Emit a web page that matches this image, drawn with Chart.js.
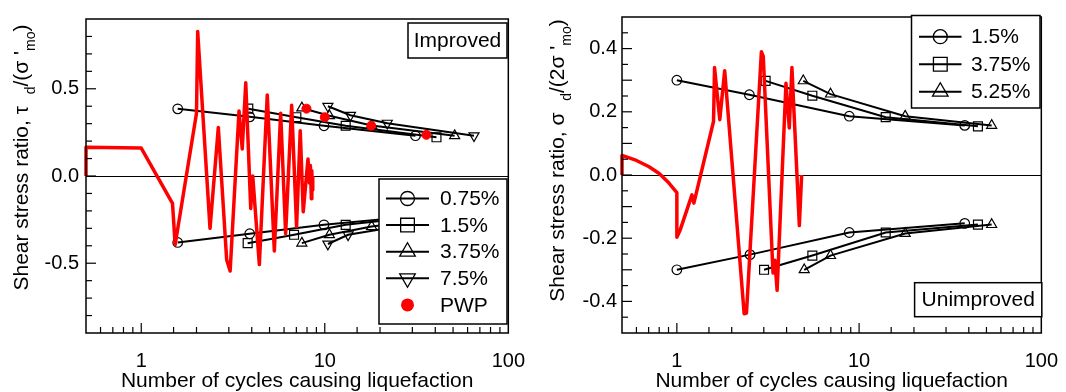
<!DOCTYPE html>
<html>
<head>
<meta charset="utf-8">
<script src="https://cdn.jsdelivr.net/npm/chart.js@4.4.1/dist/chart.umd.min.js"></script>
<style>
  html, body { margin: 0; padding: 0; background: #fff; }
  #wrap { position: relative; width: 1066px; height: 392px; }
  canvas { position: absolute; top: 0; }
</style>
</head>
<body>
<div id="wrap">
  <canvas id="improved" width="533" height="392" style="left:0"></canvas>
  <canvas id="unimproved" width="533" height="392" style="left:533px"></canvas>
</div>
<script>
// ---- Improved ground (left panel) ----
var impLabels = ["0.75%", "1.5%", "3.75%", "7.5%"];
var impUpperCycles = [
  [1.58, 3.9, 9.9, 31.2],
  [3.83, 7.0, 13.0, 40.6],
  [7.5, 10.6, 18.0, 51.0],
  [10.4, 13.8, 21.9, 65.0]
];
var impUpperRatio = [
  [0.385, 0.339, 0.288, 0.231],
  [0.386, 0.337, 0.288, 0.222],
  [0.39, 0.345, 0.29, 0.231],
  [0.40, 0.348, 0.303, 0.231]
];
var impLowerCycles = [
  [1.58, 3.9, 9.9, 31.2],
  [3.8, 6.8, 13.0, 40.6],
  [7.5, 10.6, 18.0, 51.0],
  [10.4, 13.4, 21.9, 65.0]
];
var impLowerRatio = [
  [-0.381, -0.331, -0.28, -0.23],
  [-0.385, -0.337, -0.28, -0.222],
  [-0.385, -0.337, -0.29, -0.231],
  [-0.39, -0.337, -0.30, -0.231]
];
var impPwpLabel = "PWP";
var impPwpCycles = [7.95, 10.0, 17.9, 35.8];
var impPwpRatio = [0.386, 0.337, 0.288, 0.236];
var impTraceCycles = [0.5, 0.5, 1.0, 1.48, 1.53, 2.0, 2.03, 2.37, 2.63, 2.92, 3.05, 3.41, 3.55, 3.71, 3.95, 4.05, 4.4,
  4.86, 5.31, 5.75, 6.12, 6.6, 7.02, 7.35, 7.63, 8.1, 8.25, 8.35, 8.45, 8.5, 8.55, 8.6];
var impTraceRatio = [0, 0.165, 0.16, -0.157, -0.394, 0.36, 0.828, -0.30, 0.278, -0.48, -0.545, 0.373, 0.155, 0.534, -0.186, 0.0, -0.508,
  0.465, -0.43, 0.36, -0.33, 0.405, -0.29, 0.26, -0.205, 0.098, -0.04, 0.06, -0.13, 0.03, -0.08, 0.0];

// ---- Unimproved ground (right panel) ----
var unLabels = ["1.5%", "3.75%", "5.25%"];
var unUpperCycles = [
  [1.0, 2.5, 8.83, 38.0],
  [3.07, 5.54, 14.0, 44.9],
  [4.94, 6.97, 17.9, 53.4]
];
var unUpperRatio = [
  [0.30, 0.254, 0.186, 0.157],
  [0.298, 0.251, 0.183, 0.154],
  [0.298, 0.256, 0.186, 0.157]
];
var unLowerCycles = [
  [1.0, 2.52, 8.83, 38.0],
  [3.01, 5.54, 14.0, 44.9],
  [5.0, 6.97, 17.9, 53.4]
];
var unLowerRatio = [
  [-0.30, -0.252, -0.182, -0.153],
  [-0.30, -0.255, -0.182, -0.157],
  [-0.30, -0.255, -0.185, -0.157]
];
var unTraceCycles = [0.5, 0.5, 0.6, 0.7, 0.8, 0.9, 1.0, 1.0, 1.04, 1.21, 1.24, 1.59, 1.61, 1.72, 1.83, 2.34, 2.41,
  2.91, 2.98, 3.37, 3.45, 3.55, 3.97, 4.14, 4.28, 4.7, 4.84];
var unTraceRatio = [0, 0.062, 0.046, 0.027, 0.005, -0.024, -0.056, -0.197, -0.176, -0.063, -0.089, 0.17, 0.34, 0.175, 0.33, -0.439, -0.437,
  0.39, 0.375, -0.31, -0.27, -0.365, 0.29, 0.149, 0.34, -0.16, 0.0];

var xTickLabels = [1, 10, 100];

var FONT = '"Liberation Sans", Arial, sans-serif';
var shapesImp = [{ s: "circle", rot: 0 }, { s: "rect", rot: 0 }, { s: "triangle", rot: 0 }, { s: "triangle", rot: 180 }];
var shapesUn = [{ s: "circle", rot: 0 }, { s: "rect", rot: 0 }, { s: "triangle", rot: 0 }];
var plotRadius = { circle: 4.8, rect: 6.3, triangle: 5.8 };
var legendRadius = { circle: 7, rect: 9.7, triangle: 9 };

function pts(xs, ys) {
  return xs.map(function (x, i) { return { x: x, y: ys[i] }; });
}

function seriesDatasets(labels, shapes, upN, upR, loN, loR) {
  var out = [];
  labels.forEach(function (lab, i) {
    var st = shapes[i];
    [[upN[i], upR[i]], [loN[i], loR[i]]].forEach(function (br, k) {
      out.push({
        label: lab,
        legendEntry: k === 0,
        shape: st.s,
        rot: st.rot,
        data: pts(br[0], br[1]),
        showLine: true,
        borderColor: "#000",
        borderWidth: 2,
        pointStyle: st.s,
        pointRotation: st.rot,
        pointRadius: plotRadius[st.s],
        pointHoverRadius: plotRadius[st.s],
        pointBorderWidth: 1.2,
        pointBorderColor: "#000",
        pointBackgroundColor: "rgba(0,0,0,0)",
        order: 3
      });
    });
  });
  return out;
}

function traceDataset(xs, ys) {
  return {
    label: "trace",
    data: pts(xs, ys),
    showLine: true,
    borderColor: "#ff0000",
    borderWidth: 3.5,
    borderJoinStyle: "round",
    pointRadius: 0,
    clip: false,
    order: 2
  };
}

function drawMarker(ctx, shape, rot, x, y, r) {
  ctx.beginPath();
  if (shape === "circle") {
    ctx.arc(x, y, r, 0, 2 * Math.PI);
  } else if (shape === "rect") {
    var h = r * Math.SQRT1_2;
    ctx.rect(x - h, y - h, 2 * h, 2 * h);
  } else {
    var s = rot ? -1 : 1;
    ctx.moveTo(x, y - s * r);
    ctx.lineTo(x + r * 0.866, y + s * r * 0.5);
    ctx.lineTo(x - r * 0.866, y + s * r * 0.5);
    ctx.closePath();
  }
  ctx.stroke();
}

function drawYTitle(ctx, parts, baseX, centerY) {
  ctx.save();
  ctx.fillStyle = "#000";
  ctx.textBaseline = "alphabetic";
  ctx.textAlign = "left";
  var total = 0;
  parts.forEach(function (p) {
    ctx.font = (p.sub ? 14 : 21) + "px " + FONT;
    p.w = ctx.measureText(p.t).width;
    total += p.w;
  });
  ctx.translate(baseX, centerY + total / 2);
  ctx.rotate(-Math.PI / 2);
  var pos = 0;
  parts.forEach(function (p) {
    ctx.font = (p.sub ? 14 : 21) + "px " + FONT;
    ctx.fillText(p.t, pos, p.sub ? 7 : 0);
    pos += p.w;
  });
  ctx.restore();
}

var panelDeco = {
  id: "panelDeco",
  afterDatasetsDraw: function (chart, args, o) {
    var ctx = chart.ctx, a = chart.chartArea, xs = chart.scales.x, ys = chart.scales.y;
    ctx.save();
    ctx.strokeStyle = "#000";
    ctx.lineWidth = 1.2;
    xs.ticks.forEach(function (t) {
      var lg = Math.log10(t.value);
      var major = Math.abs(lg - Math.round(lg)) < 1e-6;
      var px = xs.getPixelForValue(t.value);
      if (px < a.left + 1 || px > a.right - 1) return;
      ctx.beginPath();
      ctx.moveTo(px, a.bottom);
      ctx.lineTo(px, a.bottom - (major ? 10 : 6));
      ctx.stroke();
    });
    ys.ticks.forEach(function (t) {
      var q = t.value / o.majorY;
      var major = Math.abs(q - Math.round(q)) < 1e-6;
      var py = ys.getPixelForValue(t.value);
      if (py < a.top + 1 || py > a.bottom - 1) return;
      ctx.beginPath();
      ctx.moveTo(a.left, py);
      ctx.lineTo(a.left + (major ? 10 : 6), py);
      ctx.stroke();
    });
    ctx.lineWidth = 1.5;
    ctx.strokeRect(a.left, a.top, a.right - a.left, a.bottom - a.top);
    ctx.restore();
  },
  afterDraw: function (chart, args, o) {
    var ctx = chart.ctx;
    ctx.save();
    // legend
    var L = o.legend;
    ctx.fillStyle = "#fff";
    ctx.fillRect(L.x, L.y, L.w, L.h);
    ctx.strokeStyle = "#000";
    ctx.lineWidth = 1.5;
    ctx.strokeRect(L.x, L.y, L.w, L.h);
    var entries = chart.data.datasets.filter(function (d) { return d.legendEntry; });
    ctx.font = "21px " + FONT;
    ctx.textBaseline = "middle";
    ctx.textAlign = "left";
    entries.forEach(function (d, i) {
      var y = L.row0 + i * L.step;
      ctx.fillStyle = "#000";
      if (d.dots) {
        ctx.fillStyle = "#ff0000";
        ctx.beginPath();
        ctx.arc(L.mark, y, 6.5, 0, 2 * Math.PI);
        ctx.fill();
      } else {
        ctx.strokeStyle = "#000";
        ctx.lineWidth = 2;
        ctx.beginPath();
        ctx.moveTo(L.line0, y);
        ctx.lineTo(L.line1, y);
        ctx.stroke();
        ctx.lineWidth = 1.3;
        drawMarker(ctx, d.shape, d.rot, L.mark, y, legendRadius[d.shape]);
      }
      ctx.fillStyle = "#000";
      ctx.fillText(d.label, L.text, y + 1);
    });
    // panel tag
    var T = o.tag;
    ctx.fillStyle = "#fff";
    ctx.fillRect(T.x, T.y, T.w, T.h);
    ctx.strokeStyle = "#000";
    ctx.lineWidth = 1.5;
    ctx.strokeRect(T.x, T.y, T.w, T.h);
    ctx.fillStyle = "#000";
    ctx.textAlign = "center";
    ctx.fillText(T.text, T.x + T.w / 2, T.y + T.h / 2 + 1);
    ctx.restore();
    drawYTitle(ctx, o.title, o.titleX, o.titleY);
  }
};

function makeChart(id, datasets, yMin, yMax, yStep, labelStep, majorY, yWidth, yPad, padRight, deco) {
  return new Chart(document.getElementById(id), {
    type: "scatter",
    data: { datasets: datasets },
    plugins: [panelDeco],
    options: {
      responsive: false,
      devicePixelRatio: 1,
      animation: false,
      events: [],
      layout: { padding: { left: 0, right: padRight, top: 15, bottom: 0 } },
      plugins: {
        legend: { display: false },
        tooltip: { enabled: false },
        panelDeco: Object.assign({ majorY: majorY }, deco)
      },
      scales: {
        x: {
          type: "logarithmic",
          min: 0.5,
          max: 100,
          grid: { display: false },
          border: { display: false },
          afterFit: function (s) { s.height = 59; },
          ticks: {
            autoSkip: false,
            maxRotation: 0,
            padding: 8,
            color: "#000",
            font: { family: FONT, size: 20 },
            callback: function (v) {
              for (var i = 0; i < xTickLabels.length; i++) {
                if (Math.abs(v - xTickLabels[i]) < 1e-6 * xTickLabels[i]) return String(xTickLabels[i]);
              }
              return "";
            }
          },
          title: {
            display: true,
            text: "Number of cycles causing liquefaction",
            color: "#000",
            font: { family: FONT, size: 21, lineHeight: 1 },
            padding: { top: 0, bottom: 0 }
          }
        },
        y: {
          min: yMin,
          max: yMax,
          afterFit: function (s) { s.width = yWidth; },
          border: { display: false },
          grid: {
            drawTicks: false,
            lineWidth: 1,
            color: function (c) { return c.tick && Math.abs(c.tick.value) < 1e-9 ? "#000" : "rgba(0,0,0,0)"; }
          },
          ticks: {
            stepSize: yStep,
            autoSkip: false,
            padding: yPad,
            color: "#000",
            font: { family: FONT, size: 20 },
            callback: function (v) {
              var q = v / labelStep;
              return Math.abs(q - Math.round(q)) < 1e-6 ? (Math.round(q) * labelStep).toFixed(1) : "";
            }
          }
        }
      }
    }
  });
}

// left panel datasets
var impSets = seriesDatasets(impLabels, shapesImp, impUpperCycles, impUpperRatio, impLowerCycles, impLowerRatio);
impSets.push({
  label: impPwpLabel,
  legendEntry: true,
  dots: true,
  data: pts(impPwpCycles, impPwpRatio),
  showLine: false,
  pointRadius: 4.5,
  pointBackgroundColor: "#ff0000",
  pointBorderColor: "#ff0000",
  order: 1
});
impSets.push(traceDataset(impTraceCycles, impTraceRatio));

makeChart("improved", impSets, -0.9, 0.9, 0.1, 0.5, 0.5, 86, 7, 22, {
  legend: { x: 379, y: 179, w: 128, h: 145, row0: 198.5, step: 26.6, line0: 386, line1: 429, mark: 407.5, text: 440 },
  tag: { x: 408, y: 23, w: 99, h: 35, text: "Improved" },
  title: [
    { t: "Shear stress ratio, \u03c4  " }, { t: "d", sub: true }, { t: "/(\u03c3 " }, { t: "'" }, { t: "mo", sub: true }, { t: ")" }
  ],
  titleX: 28,
  titleY: 157.5
});

// right panel datasets
var unSets = seriesDatasets(unLabels, shapesUn, unUpperCycles, unUpperRatio, unLowerCycles, unLowerRatio);
unSets.push(traceDataset(unTraceCycles, unTraceRatio));

makeChart("unimproved", unSets, -0.5, 0.5, 0.05, 0.2, 0.1, 89, 5, 19, {
  legend: { x: 378.5, y: 15.5, w: 128.5, h: 92.5, row0: 36.7, step: 27.5, line0: 386, line1: 428.5, mark: 407.3, text: 438 },
  tag: { x: 381.6, y: 282.7, w: 127.2, h: 34, text: "Unimproved" },
  title: [
    { t: "Shear stress ratio, \u03c3  " }, { t: "d", sub: true }, { t: "/(2\u03c3 " }, { t: "'" }, { t: "mo", sub: true }, { t: ")" }
  ],
  titleX: 31,
  titleY: 160.5
});
</script>
</body>
</html>
